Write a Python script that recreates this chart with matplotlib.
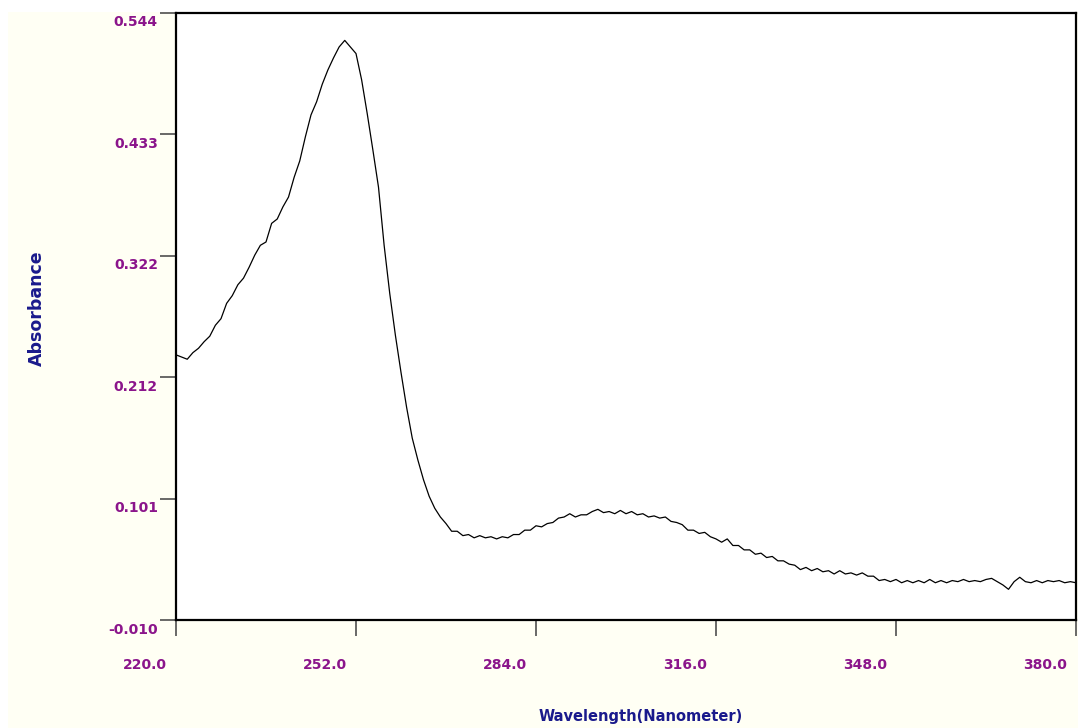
import numpy as np
import matplotlib
matplotlib.use('Agg')
import matplotlib.pyplot as plt
from matplotlib.patches import Rectangle
from matplotlib.transforms import ScaledTranslation

# absorbance spectrum, 1 nm steps from 220 to 380 nm
wavelength = np.arange(220, 381, 1)
absorbance = [
    0.232, 0.230, 0.228, 0.234, 0.238, 0.244, 0.249, 0.259, 0.265, 0.279,   # 220-229
    0.286, 0.296, 0.302, 0.312, 0.323, 0.332, 0.335, 0.352, 0.356, 0.367,   # 230-239
    0.376, 0.394, 0.409, 0.431, 0.451, 0.463, 0.479, 0.492, 0.503, 0.513,   # 240-249
    0.519, 0.513, 0.507, 0.483, 0.452, 0.419, 0.385, 0.332, 0.288, 0.250,   # 250-259
    0.216, 0.184, 0.156, 0.136, 0.118, 0.103, 0.092, 0.084, 0.078, 0.071,   # 260-269
    0.071, 0.067, 0.068, 0.065, 0.067, 0.065, 0.066, 0.064, 0.066, 0.065,   # 270-279
    0.068, 0.068, 0.072, 0.072, 0.076, 0.075, 0.078, 0.079, 0.083, 0.084,   # 280-289
    0.087, 0.084, 0.086, 0.086, 0.089, 0.091, 0.088, 0.089, 0.087, 0.090,   # 290-299
    0.087, 0.089, 0.086, 0.087, 0.084, 0.085, 0.083, 0.084, 0.080, 0.079,   # 300-309
    0.077, 0.072, 0.072, 0.069, 0.070, 0.066, 0.064, 0.061, 0.064, 0.058,   # 310-319
    0.058, 0.054, 0.054, 0.050, 0.051, 0.047, 0.048, 0.044, 0.044, 0.041,   # 320-329
    0.040, 0.036, 0.038, 0.035, 0.037, 0.034, 0.035, 0.032, 0.035, 0.032,   # 330-339
    0.033, 0.031, 0.033, 0.030, 0.030, 0.026, 0.027, 0.025, 0.027, 0.024,   # 340-349
    0.026, 0.024, 0.026, 0.024, 0.027, 0.024, 0.026, 0.024, 0.026, 0.025,   # 350-359
    0.027, 0.025, 0.026, 0.025, 0.027, 0.028, 0.025, 0.022, 0.018, 0.025,   # 360-369
    0.029, 0.025, 0.024, 0.026, 0.024, 0.026, 0.025, 0.026, 0.024, 0.025,   # 370-379
    0.024,                                                                  # 380
]

xticks = [220.0, 252.0, 284.0, 316.0, 348.0, 380.0]
yticks = np.linspace(-0.010, 0.544, 6)

purple = '#8B158B'
navy = '#1A1A8C'

fig = plt.figure(figsize=(10.78, 7.28), dpi=100, facecolor='white')
# cream panel behind everything
fig.patches.append(Rectangle((8 / 1078, 0), 1, 716 / 728, transform=fig.transFigure,
                             facecolor='#FFFFF4', edgecolor='none', zorder=-10))

ax = fig.add_axes([176 / 1078, 1 - 620 / 728, 900 / 1078, 607 / 728])
ax.set_facecolor('white')
ax.plot(wavelength, absorbance, color='black', lw=0.9)

ax.set_xlim(220, 380)
ax.set_ylim(-0.010, 0.544)
ax.set_xticks(xticks)
ax.set_xticklabels(['%.1f' % v for v in xticks])
ax.set_yticks(yticks)
ax.set_yticklabels(['%.3f' % v for v in yticks])

for s in ax.spines.values():
    s.set_linewidth(1.6)
    s.set_color('black')

ax.tick_params(axis='both', direction='out', length=11.5, width=1.1, color='#404040',
               labelcolor=purple, labelsize=10)
ax.tick_params(axis='x', pad=16)
ax.tick_params(axis='y', pad=1.5)
for lab in ax.get_xticklabels():
    lab.set_fontweight('bold')
    lab.set_horizontalalignment('right')
    lab.set_transform(lab.get_transform() + ScaledTranslation(-0.09, 0, fig.dpi_scale_trans))
for lab in ax.get_yticklabels():
    lab.set_fontweight('bold')
    lab.set_transform(lab.get_transform() + ScaledTranslation(0, -0.08, fig.dpi_scale_trans))

fig.text(37 / 1078, 1 - 308 / 728, 'Absorbance', rotation=90, ha='center', va='center',
         color=navy, fontsize=12.5, fontweight='bold')
fig.text(641 / 1078, 1 - 717 / 728, 'Wavelength(Nanometer)', ha='center', va='center',
         color=navy, fontsize=10.5, fontweight='bold')

fig.savefig('out.png', dpi=100, facecolor=fig.get_facecolor())
